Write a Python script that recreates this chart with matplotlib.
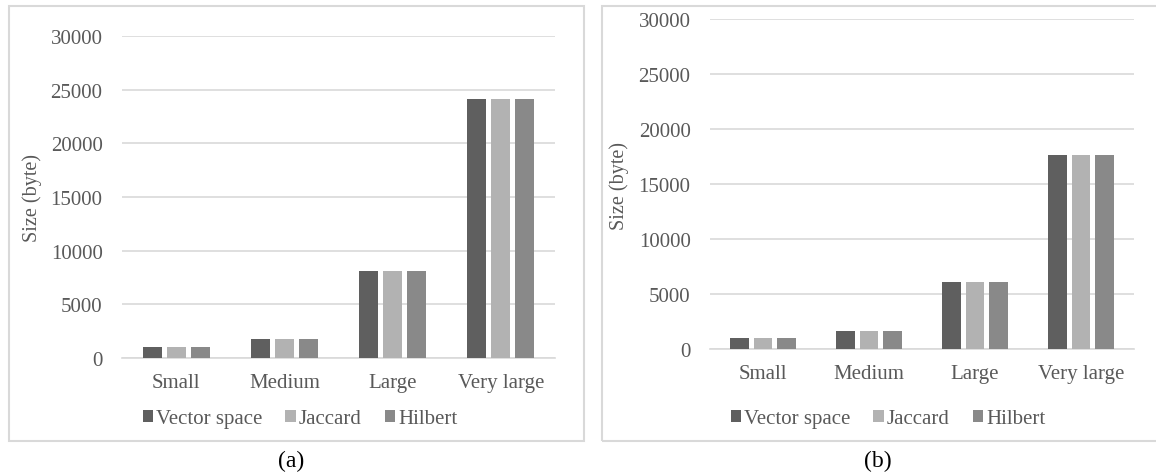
import numpy as np
import matplotlib
matplotlib.use("Agg")
import matplotlib.pyplot as plt
from matplotlib.patches import Rectangle, Patch

plt.rcParams['font.family'] = ['Liberation Serif', 'DejaVu Serif']

categories = ['Small', 'Medium', 'Large', 'Very large']
series_names = ['Vector space', 'Jaccard', 'Hilbert']
colors = ['#5f5f5f', '#b2b2b2', '#898989']

# (a) 尺寸
vector_a = [1000, 1800, 8100, 24100]
jaccard_a = [1000, 1800, 8100, 24100]
hilbert_a = [1000, 1800, 8100, 24100]

# (b) 尺寸
vector_b = [1000, 1600, 6100, 17650]
jaccard_b = [1000, 1600, 6100, 17650]
hilbert_b = [1000, 1600, 6100, 17650]

yticks = [0, 5000, 10000, 15000, 20000, 25000, 30000]

W, H = 1156, 477
TEXT = '#595959'
GRID = '#d9d9d9'

fig = plt.figure(figsize=(W / 100, H / 100), dpi=100)


def px_axes(x0, x1, y_top, y_bot):
    return fig.add_axes([x0 / W, 1 - y_bot / H, (x1 - x0) / W, (y_bot - y_top) / H])


def draw_panel(ax, data, label_xy):
    x = np.arange(len(categories))
    width = 0.175
    step = 0.222
    for i, vals in enumerate(data):
        ax.bar(x + (i - 1) * step, vals, width, color=colors[i], zorder=3)
    ax.set_xlim(-0.5, len(categories) - 0.5)
    ax.set_ylim(0, 30000)
    ax.set_yticks(yticks)
    ax.set_yticklabels([str(v) for v in yticks])
    ax.set_xticks(x)
    ax.set_xticklabels(categories)
    ax.tick_params(axis='both', length=0, labelsize=15, colors=TEXT)
    ax.tick_params(axis='y', pad=14)
    ax.tick_params(axis='x', pad=11)
    ax.yaxis.grid(True, color=GRID, linewidth=1.2, zorder=0)
    ax.set_axisbelow(True)
    for s in ['top', 'right', 'left']:
        ax.spines[s].set_visible(False)
    ax.spines['bottom'].set_color(GRID)
    ax.spines['bottom'].set_linewidth(1.2)
    ax.set_ylabel('Size (byte)', fontsize=14.5, color=TEXT, va='center')
    ax.yaxis.set_label_coords(label_xy[0] / W, 1 - label_xy[1] / H, transform=fig.transFigure)


ax1 = px_axes(122, 555, 37, 359)
draw_panel(ax1, [vector_a, jaccard_a, hilbert_a], (32, 198))

ax2 = px_axes(710, 1134, 20, 350)
draw_panel(ax2, [vector_b, jaccard_b, hilbert_b], (619, 186))

# 图表外框
for x0, x1 in [(9, 584), (602, 1175)]:
    fig.patches.append(Rectangle((x0 / W, 1 - 442 / H), (x1 - x0) / W, (442 - 7) / H,
                                 transform=fig.transFigure, fill=False,
                                 edgecolor=GRID, linewidth=1.5))

handles = [Patch(facecolor=c, edgecolor='none') for c in colors]
for cx, cy in [(300, 420), (888, 420)]:
    fig.legend(handles, series_names, loc='center', bbox_to_anchor=(cx / W, 1 - cy / H),
               ncol=3, frameon=False, fontsize=15, labelcolor=TEXT,
               handlelength=0.5, handleheight=0.5, handletextpad=0.15,
               columnspacing=1.1, borderpad=0)

fig.text(291 / W, 1 - 461 / H, '(a)', ha='center', va='center', fontsize=17, color='black')
fig.text(878 / W, 1 - 461 / H, '(b)', ha='center', va='center', fontsize=17, color='black')

fig.savefig('out.png', dpi=100)
